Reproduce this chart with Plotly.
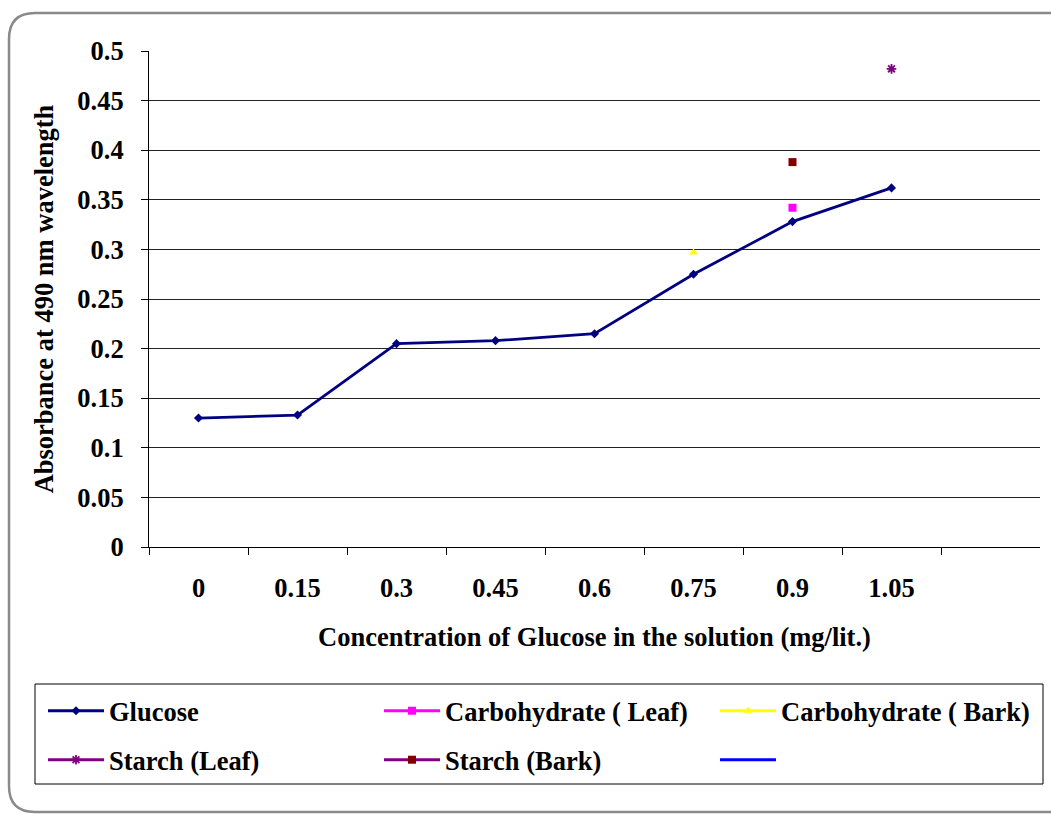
import plotly.graph_objects as go

# Glucose standard curve plus sample readings (absorbance at 490 nm)
categories = ["0", "0.15", "0.3", "0.45", "0.6", "0.75", "0.9", "1.05"]
glucose = [0.130, 0.133, 0.205, 0.208, 0.215, 0.275, 0.328, 0.362]

carb_leaf_x = ["0.9"]
carb_leaf_y = [0.342]
carb_bark_x = ["0.75"]
carb_bark_y = [0.297]
starch_leaf_x = ["1.05"]
starch_leaf_y = [0.482]
starch_bark_x = ["0.9"]
starch_bark_y = [0.388]

y_ticks = [0, 0.05, 0.1, 0.15, 0.2, 0.25, 0.3, 0.35, 0.4, 0.45, 0.5]
y_grid = [0.05, 0.1, 0.15, 0.2, 0.25, 0.3, 0.35, 0.4, 0.45]

W, H = 1051, 814
L, R, T, B = 149, 1040, 51, 547          # plot area in pixels
PW, PH = R - L, B - T


def px(x):
    return (x - L) / PW


def py(y):
    return (B - y) / PH


FONT = "Times New Roman, Liberation Serif, serif"
tfont = dict(family=FONT, size=26.5, color="black", weight="bold")

fig = go.Figure()

fig.add_trace(go.Scatter(
    x=categories, y=glucose, name="Glucose", mode="lines+markers",
    line=dict(color="#000080", width=2.8),
    marker=dict(symbol="diamond", size=7, color="#000080"),
    legend="legend",
))
fig.add_trace(go.Scatter(
    x=carb_leaf_x, y=carb_leaf_y, name="Carbohydrate ( Leaf)", mode="lines+markers",
    line=dict(color="#FF00FF", width=2.8),
    marker=dict(symbol="square", size=8, color="#FF00FF"),
    legend="legend",
))
fig.add_trace(go.Scatter(
    x=carb_bark_x, y=carb_bark_y, name="Carbohydrate ( Bark)", mode="lines+markers",
    line=dict(color="#FFFF00", width=2.8),
    marker=dict(symbol="triangle-up", size=8, color="#FFFF00"),
    legend="legend",
))
fig.add_trace(go.Scatter(
    x=starch_leaf_x, y=starch_leaf_y, name="Starch (Leaf)", mode="lines+markers",
    line=dict(color="#800080", width=2.8),
    marker=dict(symbol="asterisk-open", size=8, color="#800080",
                line=dict(color="#800080", width=1.8)),
    legend="legend2",
))
fig.add_trace(go.Scatter(
    x=starch_bark_x, y=starch_bark_y, name="Starch (Bark)", mode="lines+markers",
    line=dict(color="#800080", width=2.8),
    marker=dict(symbol="square", size=8, color="#800000"),
    legend="legend2",
))
fig.add_trace(go.Scatter(
    x=[None], y=[None], name=" ", mode="lines",
    line=dict(color="#0000FF", width=2.8),
    legend="legend2",
))

# horizontal grid on an overlaid axis (no line at the top edge)
fig.add_trace(go.Scatter(x=[None], y=[None], yaxis="y2", showlegend=False))

legend_common = dict(
    orientation="h", xref="paper", yref="paper",
    xanchor="left", yanchor="middle",
    entrywidth=265, entrywidthmode="pixels",
    bgcolor="rgba(0,0,0,0)", borderwidth=0,
    font=tfont, itemwidth=56, traceorder="normal",
)

fig.update_layout(
    width=W, height=H,
    margin=dict(l=L, r=W - R, t=T, b=H - B),
    paper_bgcolor="white", plot_bgcolor="rgba(0,0,0,0)",
    showlegend=True,
    xaxis=dict(
        type="category", categoryorder="array", categoryarray=categories,
        range=[-0.5, 8.5], tickson="boundaries",
        ticks="outside", ticklen=7, tickcolor="black", tickwidth=1,
        showline=True, linecolor="black", linewidth=1,
        showgrid=False, zeroline=False,
        tickfont=tfont, ticklabelstandoff=17,
        title=dict(text="Concentration of Glucose in the solution (mg/lit.)",
                   font=tfont, standoff=25),
        fixedrange=True,
    ),
    yaxis=dict(
        range=[0, 0.5], tickvals=y_ticks,
        ticktext=[f"{v:g}" for v in y_ticks],
        ticks="outside", ticklen=7, tickcolor="black", tickwidth=1,
        showline=True, linecolor="black", linewidth=1,
        showgrid=False, zeroline=False,
        tickfont=tfont, ticklabelstandoff=12,
        title=dict(text="Absorbance at 490 nm wavelength", font=tfont, standoff=16),
    ),
    yaxis2=dict(
        range=[0, 0.5], overlaying="y", tickvals=y_grid,
        showticklabels=False, ticks="", showgrid=True,
        gridcolor="#222222", gridwidth=1, zeroline=False, showline=False,
    ),
    legend=dict(x=px(63), y=py(711), **legend_common),
    legend2=dict(x=px(63), y=py(760), **legend_common),
)

# legend frame
fig.add_shape(type="rect", xref="paper", yref="paper",
              x0=px(35), x1=px(1043), y0=py(784), y1=py(684),
              line=dict(color="black", width=1), fillcolor="rgba(0,0,0,0)",
              layer="below")

# rounded outer chart border
x0, x1, y0, y1, r = 9, 1100, 13, 812, 26
path = (
    f"M {px(x0)},{py(y0 + r)} "
    f"Q {px(x0)},{py(y0)} {px(x0 + r)},{py(y0)} "
    f"L {px(x1 - r)},{py(y0)} "
    f"Q {px(x1)},{py(y0)} {px(x1)},{py(y0 + r)} "
    f"L {px(x1)},{py(y1 - r)} "
    f"Q {px(x1)},{py(y1)} {px(x1 - r)},{py(y1)} "
    f"L {px(x0 + r)},{py(y1)} "
    f"Q {px(x0)},{py(y1)} {px(x0)},{py(y1 - r)} Z"
)
fig.add_shape(type="path", xref="paper", yref="paper", path=path,
              line=dict(color="#8a8a8a", width=2.5), layer="below")

fig.write_html("out.html")
